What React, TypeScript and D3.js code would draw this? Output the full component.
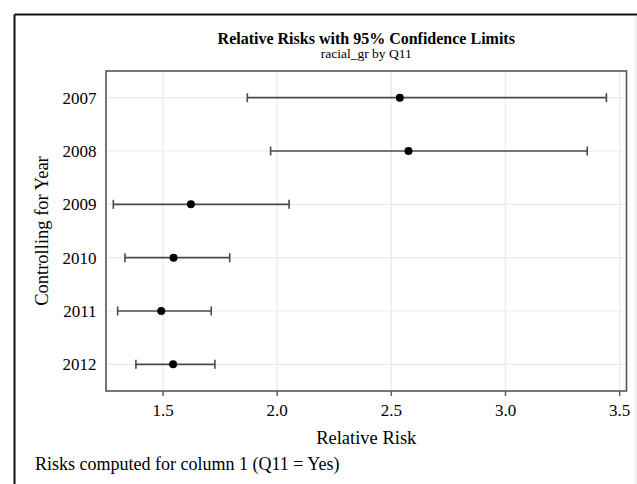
import React from 'react';
import * as d3 from 'd3';

// values
const years = ['2007', '2008', '2009', '2010', '2011', '2012'];
const relRisk = [2.537, 2.575, 1.622, 1.546, 1.492, 1.544];
const lowerCL = [1.869, 1.971, 1.282, 1.333, 1.301, 1.381];
const upperCL = [3.442, 3.358, 2.052, 1.792, 1.711, 1.727];
const xTicks = [1.5, 2.0, 2.5, 3.0, 3.5];

const W = 637;
const H = 484;
const font = '"Liberation Serif", "Times New Roman", serif';

const App: React.FC = () => {
    const left = 106, right = 626.5, top = 71, bottom = 391;

    const x = d3.scaleLinear()
        .domain([1.25, 3.53])
        .range([left, right]);

    const y = d3.scaleBand<string>()
        .domain(years)
        .range([top, bottom]);

    const yc = (yr: string) => (y(yr) as number) + y.bandwidth() / 2;
    const cx = (left + right) / 2;

    return (
        <div style={{ position: 'absolute', left: 0, top: 0 }}>
            <svg width={W} height={H} style={{ display: 'block', background: 'white' }}>
                {/* outer frame */}
                <line x1={14.5} x2={637} y1={14.5} y2={14.5} stroke="#111" strokeWidth={2} />
                <line x1={14.5} x2={14.5} y1={14.5} y2={H} stroke="#111" strokeWidth={2} />
                <line x1={636} x2={636} y1={16} y2={H} stroke="#ddd" strokeWidth={1} />

                {/* titles */}
                <text x={cx} y={43.5} textAnchor="middle" fontFamily={font} fontWeight="bold" fontSize={16} fill="#000">
                    Relative Risks with 95% Confidence Limits
                </text>
                <text x={cx} y={57.5} textAnchor="middle" fontFamily={font} fontSize={13.5} fill="#000">
                    racial_gr by Q11
                </text>

                {/* grid */}
                {xTicks.map(t => (
                    <line key={'gx' + t} x1={x(t)} x2={x(t)} y1={top} y2={bottom} stroke="#ebebeb" strokeWidth={1.2} />
                ))}
                {years.map(yr => (
                    <line key={'gy' + yr} x1={left} x2={right} y1={yc(yr)} y2={yc(yr)} stroke="#ebebeb" strokeWidth={1.2} />
                ))}

                {/* error bars */}
                {years.map((yr, i) => (
                    <g key={'eb' + yr} stroke="#4a4a4a" strokeWidth={1.6}>
                        <line x1={x(lowerCL[i])} x2={x(upperCL[i])} y1={yc(yr)} y2={yc(yr)} />
                        <line x1={x(lowerCL[i])} x2={x(lowerCL[i])} y1={yc(yr) - 4.5} y2={yc(yr) + 4.5} />
                        <line x1={x(upperCL[i])} x2={x(upperCL[i])} y1={yc(yr) - 4.5} y2={yc(yr) + 4.5} />
                    </g>
                ))}
                {years.map((yr, i) => (
                    <circle key={'pt' + yr} cx={x(relRisk[i])} cy={yc(yr)} r={4} fill="#000" />
                ))}

                {/* plot frame */}
                <rect x={left} y={top} width={right - left} height={bottom - top} fill="none" stroke="#555" strokeWidth={1.6} />

                {/* x axis */}
                {xTicks.map(t => (
                    <g key={'tx' + t}>
                        <line x1={x(t)} x2={x(t)} y1={bottom} y2={bottom + 5} stroke="#555" strokeWidth={1.4} />
                        <text x={x(t)} y={416} textAnchor="middle" fontFamily={font} fontSize={17} fill="#000">
                            {d3.format('.1f')(t)}
                        </text>
                    </g>
                ))}
                <text x={cx} y={444} textAnchor="middle" fontFamily={font} fontSize={18.5} fill="#000">
                    Relative Risk
                </text>

                {/* y axis */}
                {years.map(yr => (
                    <text key={'ty' + yr} x={96.5} y={yc(yr) + 6} textAnchor="end" fontFamily={font} fontSize={17} fill="#000">
                        {yr}
                    </text>
                ))}
                <text transform={`translate(48, ${(top + bottom) / 2}) rotate(-90)`} textAnchor="middle"
                    fontFamily={font} fontSize={18.5} fill="#000">
                    Controlling for Year
                </text>

                {/* footnote */}
                <text x={35} y={470} fontFamily={font} fontSize={18} fill="#000">
                    Risks computed for column 1 (Q11 = Yes)
                </text>
            </svg>
        </div>
    );
};

export default App;
